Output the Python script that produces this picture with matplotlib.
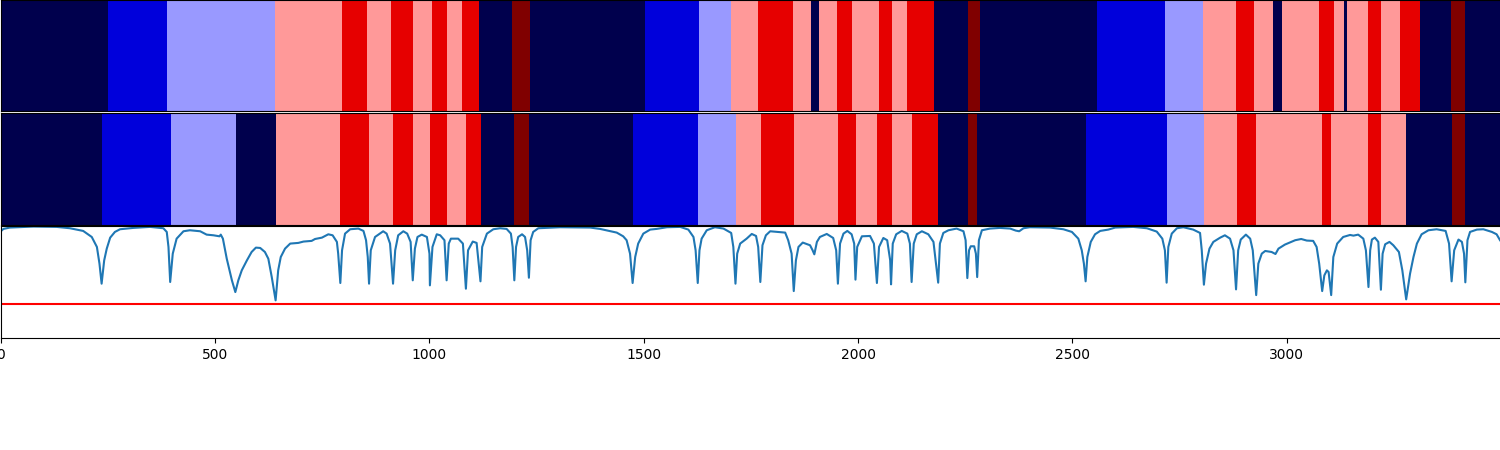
import numpy as np
import matplotlib
matplotlib.use('Agg')
import matplotlib.pyplot as plt

## segment data -- boundaries along the sequence, state index per segment
top_edges = [0, 252, 390, 642, 798, 856, 912, 964, 1008, 1043, 1078, 1118, 1195, 1237,
             1505, 1631, 1706, 1769, 1850, 1892, 1911, 1953, 1988, 2051, 2081, 2116, 2179,
             2259, 2287, 2560, 2718, 2807, 2884, 2926, 2970, 2991, 3078, 3113, 3136, 3143,
             3192, 3222, 3267, 3313, 3386, 3418, 3500]
top_states = [0, 1, 2, 3, 4, 3, 4, 3, 4, 3, 4, 0, 5, 0,
              1, 2, 3, 4, 3, 0, 3, 4, 3, 4, 3, 4,
              0, 5, 0, 1, 2, 3, 4, 3, 0, 3, 4, 3, 0,
              3, 4, 3, 4, 0, 5, 0]

mid_edges = [0, 238, 399, 551, 644, 793, 861, 917, 964, 1003, 1043, 1087, 1122, 1199, 1234,
             1477, 1629, 1717, 1776, 1853, 1955, 1997, 2046, 2081, 2128, 2189,
             2259, 2280, 2534, 2723, 2809, 2886, 2931, 3085, 3106, 3192, 3222, 3281,
             3388, 3418, 3500]
mid_states = [0, 1, 2, 0, 3, 4, 3, 4, 3, 4, 3, 4, 0, 5,
              0, 1, 2, 3, 4, 3, 4, 3, 4, 3, 4,
              0, 5, 0, 1, 2, 3, 4, 3, 4, 3, 4, 3,
              0, 5, 0]

## curve
pos = [0, 8, 23, 78, 132, 163, 194, 214, 226, 232, 237, 243, 249, 257, 268, 280, 311, 350,
       381, 389, 393, 397, 403, 412, 428, 443, 467, 482, 498, 512, 515, 520, 529, 541, 549,
       556, 564, 576, 587, 597, 607, 618, 626, 634, 643, 649, 655, 665, 677, 696, 708, 727,
       735, 751, 766, 776, 786, 789, 794, 798, 805, 817, 836, 848, 854, 858, 861, 865, 875,
       894, 902, 910, 917, 922, 929, 941, 950, 958, 963, 968, 974, 984, 996, 1002, 1003,
       1009, 1019, 1027, 1037, 1042, 1047, 1052, 1069, 1080, 1087, 1092, 1103, 1112, 1121,
       1125, 1136, 1151, 1167,
       1182, 1192, 1196, 1200, 1204, 1209, 1218, 1225, 1230, 1234, 1238, 1244, 1256, 1307,
       1377, 1400, 1439, 1454, 1462, 1470, 1476, 1482, 1489, 1501, 1517, 1532, 1556, 1587,
       1606, 1618, 1623, 1628, 1632, 1637, 1649, 1668, 1688, 1706, 1711, 1716, 1720, 1727,
       1742, 1754, 1764, 1769, 1774, 1779, 1787, 1797, 1832, 1839, 1847, 1852, 1857, 1863,
       1873, 1890, 1896, 1900, 1906, 1913, 1929, 1944, 1951, 1955, 1960, 1968, 1977, 1987,
       1993, 1996, 2000, 2011, 2030, 2039, 2046, 2051, 2061, 2070, 2077, 2079, 2083, 2091,
       2104, 2117, 2123, 2127, 2132, 2139, 2151, 2166, 2178, 2189, 2193, 2201, 2213, 2232,
       2248, 2253, 2257, 2261, 2265, 2273, 2277, 2280, 2284, 2291, 2310, 2333,
       2357, 2370, 2378, 2388, 2403, 2450, 2481, 2501, 2516, 2524, 2529, 2533, 2537, 2545,
       2555, 2567, 2586, 2602, 2644, 2676, 2699, 2712, 2718, 2722, 2726, 2734, 2746, 2761,
       2784, 2800, 2804, 2809, 2814, 2822, 2831, 2847, 2858, 2870, 2878, 2884, 2889, 2895,
       2907, 2917, 2923, 2931, 2936, 2944, 2952, 2967, 2976, 2983, 2998, 3022, 3036, 3049,
       3064, 3072, 3078, 3085, 3090, 3096, 3100, 3106, 3111, 3120, 3134, 3150, 3158, 3169,
       3181, 3187, 3193, 3197, 3201, 3208, 3216, 3222, 3226, 3232, 3242, 3251, 3264, 3272,
       3281, 3290, 3298, 3306, 3317, 3333, 3352, 3373, 3381, 3387, 3393, 3403, 3411, 3416,
       3419, 3424, 3430, 3446, 3461, 3481, 3492, 3500]
prob = [.947, .974, .986, .995, .992, .980, .956, .902, .813, .664, .485, .693, .798, .896,
        .947, .971, .983, .992, .980, .947, .813, .500, .753, .887, .953, .962, .953, .923,
        .917, .908, .923, .887, .708, .515, .410, .515, .604, .693, .768, .807, .804, .768,
        .708, .544, .336, .604, .723, .798, .843, .849, .861, .867, .884, .896, .926, .917,
        .858, .753, .491, .783, .932, .971, .977, .956, .873, .723, .485, .783, .902, .953,
        .932, .843, .485, .783, .917, .953, .932, .858, .515, .798, .902, .923, .902, .753,
        .470, .813, .926, .917, .873, .515, .843, .887, .887, .843, .440, .783, .861, .849,
        .506, .813, .932, .971, .980,
        .974, .932, .813, .515, .813, .902, .926, .902, .783, .538, .873, .947, .980, .989,
        .986, .974, .941, .908, .873, .753, .491, .723, .843, .932, .968, .974, .989, .992,
        .968, .902, .783, .491, .783, .887, .962, .989, .977, .938, .813, .485, .753, .843,
        .887, .929, .911, .813, .500, .828, .917, .953, .941, .873, .753, .419, .693, .813,
        .852, .828, .783, .747, .858, .902, .929, .893, .783, .485, .843, .932, .956, .926,
        .843, .521, .813, .908, .911, .843, .491, .813, .893, .873, .693, .479, .843, .926,
        .956, .932, .843, .500, .843, .926, .953, .926, .858, .494, .843, .938, .962, .977,
        .953, .873, .535, .783, .819, .819, .753, .544, .873, .962, .977, .983,
        .977, .959, .953, .980, .989, .986, .971, .947, .887, .783, .664, .506, .723, .858,
        .926, .956, .968, .986, .992, .980, .950, .887, .783, .494, .813, .932, .980, .989,
        .968, .938, .783, .476, .664, .798, .858, .896, .917, .887, .783, .434, .783, .879,
        .923, .887, .783, .383, .664, .753, .777, .768, .750, .798, .834, .873, .884, .870,
        .867, .813, .664, .419, .559, .604, .589, .383, .723, .843, .902, .920, .914, .923,
        .887, .783, .455, .783, .879, .896, .858, .431, .753, .837, .858, .828, .768, .604,
        .345, .574, .723, .843, .926, .962, .971, .956, .843, .506, .783, .879, .858, .753,
        .497, .873, .947, .968, .971, .947, .926, .873]
threshold = 0.3
xtick_vals = [0, 500, 1000, 1500, 2000, 2500, 3000]
shift = 2  # picture offset of the axes' left edge, in x units

fig, axes = plt.subplots(3, 1, sharex=True, figsize=(15, 4.5), dpi=100)
axes[0].set_position([0.0006, 1 - 110.8 / 450, 1.0, 110.8 / 450])
axes[1].set_position([0.0006, 1 - 225.5 / 450, 1.0, 112.0 / 450])
axes[2].set_position([0.0006, 1 - 338 / 450, 1.0, 112 / 450])

for ax, edges, states in zip(axes[:2], [top_edges, mid_edges], [top_states, mid_states]):
    ax.pcolormesh(np.array(edges) - shift, [0, 1], np.array(states)[np.newaxis, :],
                  cmap='seismic', vmin=0, vmax=5)
    ax.set_yticks([])
    ax.tick_params(axis='x', length=0)

axes[2].plot(np.array(pos) - shift, prob)
axes[2].axhline(threshold, color='r')
axes[2].set_ylim(0, 1)
axes[2].set_yticks([])
axes[2].set_xlim(0, 3500)
axes[2].set_xticks(xtick_vals)

plt.savefig('out.png')
